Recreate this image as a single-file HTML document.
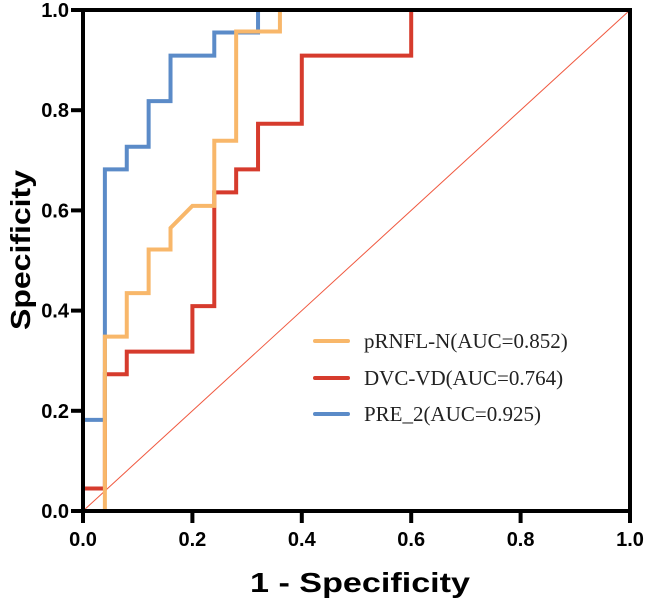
<!DOCTYPE html>
<html><head><meta charset="utf-8"><style>
body{margin:0;background:#fff}
svg{display:block}
.tk{font-family:"Liberation Sans",sans-serif;font-weight:bold;font-size:20px;fill:#000}
.ttl{font-family:"Liberation Sans",sans-serif;font-weight:bold;font-size:28px;fill:#000}
.lg{font-family:"Liberation Serif",serif;font-size:21px;fill:#222}
</style></head><body>
<svg id="chart" width="645" height="600"></svg>
<script>
const xTicks=[0,0.2,0.4,0.6,0.8,1.0];
const yTicks=[0,0.2,0.4,0.6,0.8,1.0];
const tickLabels=["0.0","0.2","0.4","0.6","0.8","1.0"];
const seriesNames=["pRNFL-N(AUC=0.852)","DVC-VD(AUC=0.764)","PRE_2(AUC=0.925)"];
const seriesColors=["#f8b76a","#d63b2d","#5b8bc8"];
const orangeX=[0,0.04,0.04,0.08,0.08,0.12,0.12,0.16,0.16,0.2,0.24,0.24,0.28,0.28,0.36,0.36,1];
const orangeY=[0,0,0.348,0.348,0.435,0.435,0.522,0.522,0.565,0.609,0.609,0.739,0.739,0.957,0.957,1,1];
const redX=[0,0,0.04,0.04,0.08,0.08,0.2,0.2,0.24,0.24,0.28,0.28,0.32,0.32,0.4,0.4,0.6,0.6,1];
const redY=[0,0.045,0.045,0.273,0.273,0.318,0.318,0.409,0.409,0.636,0.636,0.682,0.682,0.773,0.773,0.909,0.909,1,1];
const blueX=[0,0,0.04,0.04,0.08,0.08,0.12,0.12,0.16,0.16,0.24,0.24,0.32,0.32,1];
const blueY=[0,0.182,0.182,0.682,0.682,0.727,0.727,0.818,0.818,0.909,0.909,0.955,0.955,1,1];
const X0=83,X1=630,Y0=511,Y1=10;
const sx=v=>X0+v*(X1-X0), sy=v=>Y0-v*(Y0-Y1);
const svg=document.getElementById('chart');
const NS="http://www.w3.org/2000/svg";
function mk(t,a){const e=document.createElementNS(NS,t);for(const k in a)e.setAttribute(k,a[k]);svg.appendChild(e);return e;}
let e;
e=mk('line',{x1:sx(0),y1:sy(0),x2:sx(1),y2:sy(1),stroke:'#f0583f','stroke-width':1});


const sets=[[redX,redY,'series-DVC-VD',1],[blueX,blueY,'series-PRE_2',2],[orangeX,orangeY,'series-pRNFL-N',0]];
sets.forEach((s)=>{
  const pts=s[0].map((x,j)=>sx(x)+','+sy(s[1][j])).join(' ');
  e=mk('polyline',{points:pts,fill:'none',stroke:seriesColors[s[3]],'stroke-width':4});
  
  
});
e=mk('rect',{x:X0,y:Y1,width:X1-X0,height:Y0-Y1,fill:'none',stroke:'#000','stroke-width':4});


xTicks.forEach((v,i)=>{
  e=mk('line',{x1:sx(v),y1:Y0,x2:sx(v),y2:Y0+12,stroke:'#000','stroke-width':4});
  
  
  e=mk('text',{x:sx(v),y:Y0+35,'text-anchor':'middle',class:'tk'});e.textContent=tickLabels[i];
  
  
});
yTicks.forEach((v,i)=>{
  e=mk('line',{x1:X0-12,y1:sy(v),x2:X0,y2:sy(v),stroke:'#000','stroke-width':4});
  
  
  e=mk('text',{x:X0-14,y:sy(v)+7,'text-anchor':'end',class:'tk'});e.textContent=tickLabels[i];
  
  
});
e=mk('text',{x:250,y:592,class:'ttl',textLength:220,lengthAdjust:'spacingAndGlyphs'});e.textContent='1 - Specificity';


e=mk('text',{x:-80,y:0,class:'ttl',textLength:160,lengthAdjust:'spacingAndGlyphs',transform:'translate(30,250) rotate(-90)'});e.textContent='Specificity';


const legY=[341,378,414];
seriesNames.forEach((n,i)=>{
  e=mk('line',{x1:315,y1:legY[i],x2:348,y2:legY[i],stroke:seriesColors[i],'stroke-width':4,'stroke-linecap':'round'});
  
  
  e=mk('text',{x:364,y:legY[i]+7,class:'lg'});e.textContent=n;
  
  
});
</script>
</body></html>
